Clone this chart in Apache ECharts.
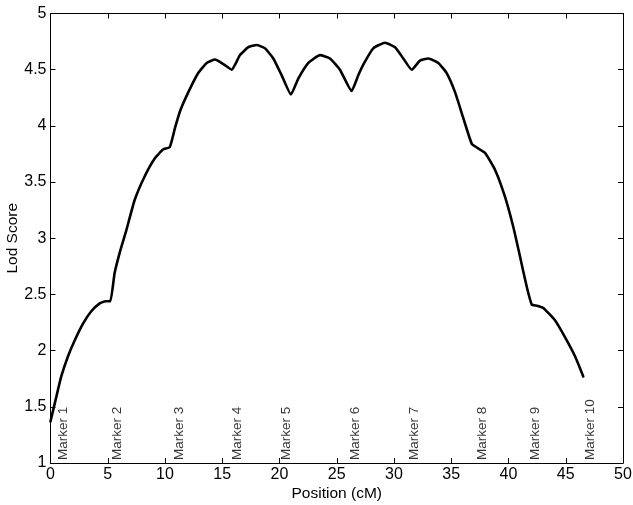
<!DOCTYPE html>
<html>
<head>
<meta charset="utf-8">
<script src="https://cdn.jsdelivr.net/npm/echarts@6/dist/echarts.min.js"></script>
<style>html,body{margin:0;padding:0;background:#fff;}#c{width:633px;height:505px;}</style>
</head>
<body>
<div id="c"></div>
<script>
// Position (cM) along the chromosome
var positions = [0, 0.07, 0.51, 0.94, 1.53, 2.11, 2.84, 3.56, 4.3, 4.8, 5.22, 5.6, 6.04, 6.62, 7.35, 8.22, 9.1, 9.83, 10.41, 10.87, 11.31, 12.04, 12.9, 13.64, 14.37, 15.09, 15.82, 16.55, 17.28, 18.0, 18.73, 19.46, 20.19, 21.0, 21.64, 22.52, 23.54, 24.41, 25.28, 26.3, 26.88, 27.4, 28.19, 29.21, 30.09, 30.81, 31.55, 32.27, 33.0, 33.87, 34.6, 35.33, 36.05, 36.79, 37.2, 37.95, 38.82, 39.69, 40.42, 41.0, 41.59, 42.03, 42.5, 43.04, 44.06, 44.93, 45.81, 46.53];
// Lod score at each position
var lodScores = [1.37, 1.40, 1.59, 1.77, 1.95, 2.09, 2.24, 2.35, 2.42, 2.44, 2.44, 2.69, 2.87, 3.07, 3.34, 3.55, 3.71, 3.79, 3.81, 3.98, 4.13, 4.30, 4.47, 4.56, 4.59, 4.55, 4.50, 4.63, 4.70, 4.72, 4.69, 4.60, 4.45, 4.28, 4.42, 4.56, 4.63, 4.60, 4.50, 4.31, 4.45, 4.56, 4.69, 4.74, 4.70, 4.60, 4.50, 4.58, 4.60, 4.56, 4.47, 4.30, 4.07, 3.84, 3.81, 3.76, 3.61, 3.37, 3.10, 2.84, 2.57, 2.41, 2.40, 2.38, 2.27, 2.12, 1.95, 1.77];
// Marker labels and where they are written
var markerNames = ['Marker 1', 'Marker 2', 'Marker 3', 'Marker 4', 'Marker 5', 'Marker 6', 'Marker 7', 'Marker 8', 'Marker 9', 'Marker 10'];
var markerPositions = [0.5, 5.2, 10.6, 15.7, 20.0, 26.0, 31.2, 37.1, 41.7, 46.5];
var markerLabelLevel = 1.027;
// Axis ticks
var xTicks = [0, 5, 10, 15, 20, 25, 30, 35, 40, 45, 50];
var yTicks = [1, 1.5, 2, 2.5, 3, 3.5, 4, 4.5, 5];

var curve = positions.map(function (p, i) { return [p, lodScores[i]]; });
var markers = markerPositions.map(function (p, i) { return { name: markerNames[i], value: [p, markerLabelLevel] }; });

var font = 'Liberation Sans, Arial, sans-serif';
var axisLine = { show: true, onZero: false, lineStyle: { color: '#000', width: 1 } };
var tick = { show: true, inside: true, length: 5, lineStyle: { color: '#000', width: 1 } };

var chart = echarts.init(document.getElementById('c'), null, { renderer: 'canvas' });
chart.setOption({
  animation: false,
  backgroundColor: '#fff',
  grid: { left: 50.5, right: 10, top: 13.5, bottom: 42, containLabel: false, outerBoundsMode: 'none' },
  xAxis: [{
    type: 'value', min: xTicks[0], max: xTicks[xTicks.length - 1], interval: xTicks[1] - xTicks[0],
    position: 'bottom', axisLine: axisLine, axisTick: tick, splitLine: { show: false },
    axisLabel: { color: '#000', fontSize: 16, fontFamily: font, margin: 4 },
    name: 'Position (cM)', nameLocation: 'middle', nameGap: 23, nameMoveOverlap: false,
    nameTextStyle: { color: '#000', fontSize: 15.5, fontFamily: font }
  }, {
    type: 'value', min: xTicks[0], max: xTicks[xTicks.length - 1], interval: xTicks[1] - xTicks[0],
    position: 'top', axisLine: axisLine, axisTick: tick, splitLine: { show: false },
    axisLabel: { show: false }
  }],
  yAxis: [{
    type: 'value', min: yTicks[0], max: yTicks[yTicks.length - 1], interval: yTicks[1] - yTicks[0],
    position: 'left', axisLine: axisLine, axisTick: tick, splitLine: { show: false },
    axisLabel: { color: '#000', fontSize: 16, fontFamily: font, margin: 4 },
    name: 'Lod Score', nameLocation: 'middle', nameGap: 30, nameRotate: 90, nameMoveOverlap: false,
    nameTextStyle: { color: '#000', fontSize: 15.5, fontFamily: font }
  }, {
    type: 'value', min: yTicks[0], max: yTicks[yTicks.length - 1], interval: yTicks[1] - yTicks[0],
    position: 'right', axisLine: axisLine, axisTick: tick, splitLine: { show: false },
    axisLabel: { show: false }
  }],
  series: [{
    type: 'line', xAxisIndex: 0, yAxisIndex: 0, data: curve,
    symbol: 'none', smooth: 0.15,
    lineStyle: { color: '#000', width: 2.6, join: 'round', cap: 'round' }
  }, {
    type: 'scatter', xAxisIndex: 0, yAxisIndex: 0, data: markers,
    symbolSize: 0.1, itemStyle: { color: 'rgba(0,0,0,0)' }, silent: true,
    label: {
      show: true, formatter: '{b}', position: [0, 0], rotate: 90,
      align: 'left', verticalAlign: 'top',
      color: '#000', fontSize: 13.5, fontFamily: font
    }
  }]
});
</script>
</body>
</html>
